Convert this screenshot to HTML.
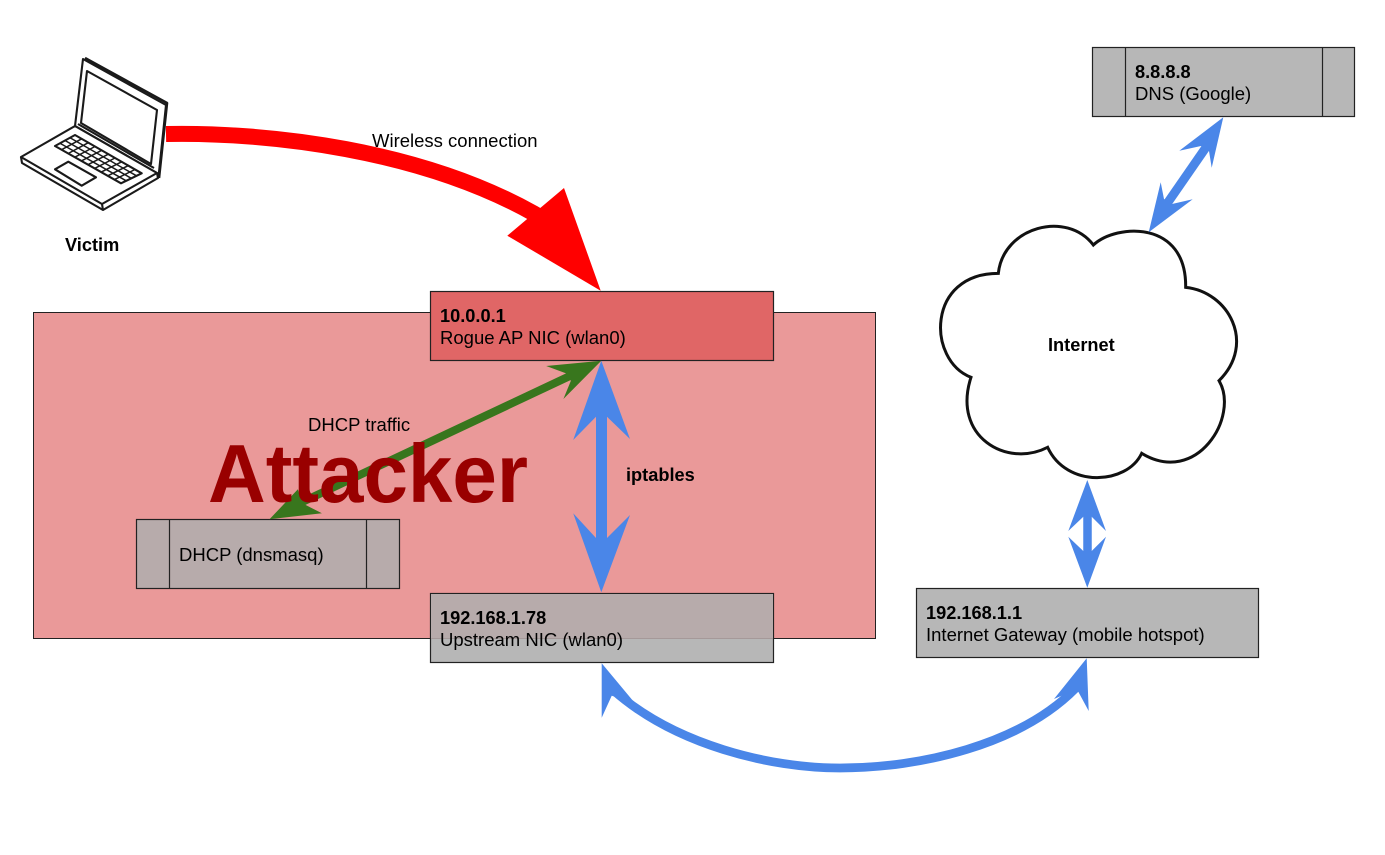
<!DOCTYPE html>
<html><head><meta charset="utf-8"><style>
html,body{margin:0;padding:0;background:#fff}
svg{display:block}
text{font-family:"Liberation Sans",sans-serif;font-size:18.5px;fill:#000}
.b{font-weight:bold;font-size:18.2px}
</style></head><body>
<svg width="1385" height="855" viewBox="0 0 1385 855" xmlns="http://www.w3.org/2000/svg">
<rect width="1385" height="855" fill="#fff"/>
<!-- attacker -->
<rect x="33.5" y="312.5" width="842" height="326" fill="#ea9999" stroke="#222" stroke-width="1"/>
<!-- boxes -->
<rect x="430.5" y="291.5" width="343" height="69" fill="#e06666" stroke="#222" stroke-width="1.2"/>
<rect x="430.5" y="593.5" width="343" height="69" fill="#b7b7b7" stroke="#222" stroke-width="1.2"/>
<rect x="431" y="594" width="342" height="44" fill="#b7abab"/>
<line x1="431" y1="638.5" x2="773" y2="638.5" stroke="#a59999" stroke-width="1"/>
<rect x="916.5" y="588.5" width="342" height="69" fill="#b7b7b7" stroke="#222" stroke-width="1.2"/>
<g stroke="#222" stroke-width="1.2">
<rect x="136.5" y="519.5" width="263" height="69" fill="#b7abab"/>
<line x1="169.5" y1="519.5" x2="169.5" y2="588.5"/><line x1="366.5" y1="519.5" x2="366.5" y2="588.5"/>
<rect x="1092.5" y="47.5" width="262" height="69" fill="#b7b7b7"/>
<line x1="1125.5" y1="47.5" x2="1125.5" y2="116.5"/><line x1="1322.5" y1="47.5" x2="1322.5" y2="116.5"/>
</g>
<!-- cloud -->
<g transform="translate(920,210) scale(0.33333)">
<path d="M520,105 C590,40 800,30 797,232 C925,245 1010,400 897,512 C960,620 830,830 665,730 C620,825 440,835 383,712 C260,775 95,680 153,502 C20,450 20,190 235,190 C250,50 440,0 520,105 Z" fill="#fff" stroke="#111" stroke-width="9" stroke-linejoin="miter"/>
</g>
<!-- red arrow -->
<path d="M166,134 C270,132 420,150 533,213 L550,223" fill="none" stroke="#f00" stroke-width="16"/>
<polygon points="600.7,290.7 507.3,235.7 564,188" fill="#f00"/>
<!-- green arrow -->
<line x1="572" y1="375" x2="298" y2="504" stroke="#38761d" stroke-width="8"/>
<polygon points="601.3,360.7 546.2,366 565.8,373.3 570.9,380.7 563.4,399" fill="#38761d"/>
<polygon points="269.5,519.3 321.9,513.3 305.7,505 300.6,498 297.9,489.3" fill="#38761d"/>
<!-- iptables blue -->
<line x1="601.5" y1="405" x2="601.5" y2="550" stroke="#4a86e8" stroke-width="11"/>
<polygon points="601.3,360.7 630,439 607,416.7 596,416.7 573.2,440" fill="#4a86e8"/>
<polygon points="601.3,592.3 630,515 607,538 596,538 573.2,513.3" fill="#4a86e8"/>
<!-- dns blue -->
<line x1="1209" y1="143" x2="1164" y2="208" stroke="#4a86e8" stroke-width="9"/>
<polygon points="1223.3,117.3 1179.3,150.7 1201,146 1209,151 1211.7,167.7" fill="#4a86e8"/>
<polygon points="1148.7,232.3 1192.7,199.3 1172,204 1164,199 1160.7,182.3" fill="#4a86e8"/>
<!-- gateway blue -->
<line x1="1087.5" y1="510" x2="1087.5" y2="560" stroke="#4a86e8" stroke-width="8.5"/>
<polygon points="1087.3,480 1106,531 1091.7,516.7 1083.3,516.7 1068.3,531" fill="#4a86e8"/>
<polygon points="1087.3,587.7 1106,536.7 1091.7,551 1083.3,551 1068.3,536.7" fill="#4a86e8"/>
<!-- curved blue -->
<path d="M613,690 C675,745 770,768 840,768 C920,768 1020,745 1076,688" fill="none" stroke="#4a86e8" stroke-width="8.7"/>
<polygon points="601.7,663.3 635,703.3 626,700 611.7,695.7 601.7,717.7" fill="#4a86e8"/>
<polygon points="1086.7,658.3 1054,699 1063.3,695 1078.3,691.7 1088.7,711" fill="#4a86e8"/>
<!-- laptop -->
<g fill="none" stroke="#1a1a1a" stroke-width="2.1" stroke-linejoin="round">
<polygon points="83,59 166,105 158.5,177 157,173 75,126" fill="#fff"/>
<polyline points="85,58 167,103 159,178" stroke-width="2.6"/>
<polygon points="87,71 157,110 151,164 81,123" fill="#fff"/>
<polygon points="21,157 75,126 157,173 102,204" fill="#fff"/>
<polyline points="21,157 22,163 103,210 158,178 157,173"/>
<line x1="102" y1="204" x2="103" y2="210"/>
<polyline points="78,124 154,168"/>
<polygon points="55,146 75,135 141.7,173.3 121,183.3"/>
<polygon points="55,169.3 68.3,161.7 96,177.3 81.7,185.7"/>
<g stroke-width="1.5">
<line x1="60" y1="143.25" x2="126.2" y2="180.8"/><line x1="65" y1="140.5" x2="131.3" y2="178.3"/><line x1="70" y1="137.75" x2="136.5" y2="175.8"/>
<line x1="61.6" y1="149.7" x2="81.7" y2="138.8"/><line x1="68.2" y1="153.5" x2="88.3" y2="142.7"/><line x1="74.8" y1="157.2" x2="95" y2="146.5"/><line x1="81.4" y1="160.9" x2="101.7" y2="150.3"/><line x1="88" y1="164.7" x2="108.3" y2="154.2"/><line x1="94.6" y1="168.4" x2="115" y2="158"/><line x1="101.2" y1="172.1" x2="121.7" y2="161.8"/><line x1="107.8" y1="175.8" x2="128.3" y2="165.6"/><line x1="114.4" y1="179.6" x2="135" y2="169.5"/>
</g>
</g>
<!-- labels -->
<text x="208" y="502" class="b" textLength="320" lengthAdjust="spacingAndGlyphs" style="font-size:83px;fill:#990000">Attacker</text>
<text x="65" y="251" class="b">Victim</text>
<text x="372" y="147">Wireless connection</text>
<text x="440" y="322" class="b">10.0.0.1</text>
<text x="440" y="344">Rogue AP NIC (wlan0)</text>
<text x="440" y="624" class="b">192.168.1.78</text>
<text x="440" y="646">Upstream NIC (wlan0)</text>
<text x="926" y="619" class="b">192.168.1.1</text>
<text x="926" y="641">Internet Gateway (mobile hotspot)</text>
<text x="1135" y="78" class="b">8.8.8.8</text>
<text x="1135" y="100">DNS (Google)</text>
<text x="179" y="561">DHCP (dnsmasq)</text>
<text x="308" y="431">DHCP traffic</text>
<text x="626" y="481" class="b">iptables</text>
<text x="1048" y="351" class="b">Internet</text>
</svg>
</body></html>
